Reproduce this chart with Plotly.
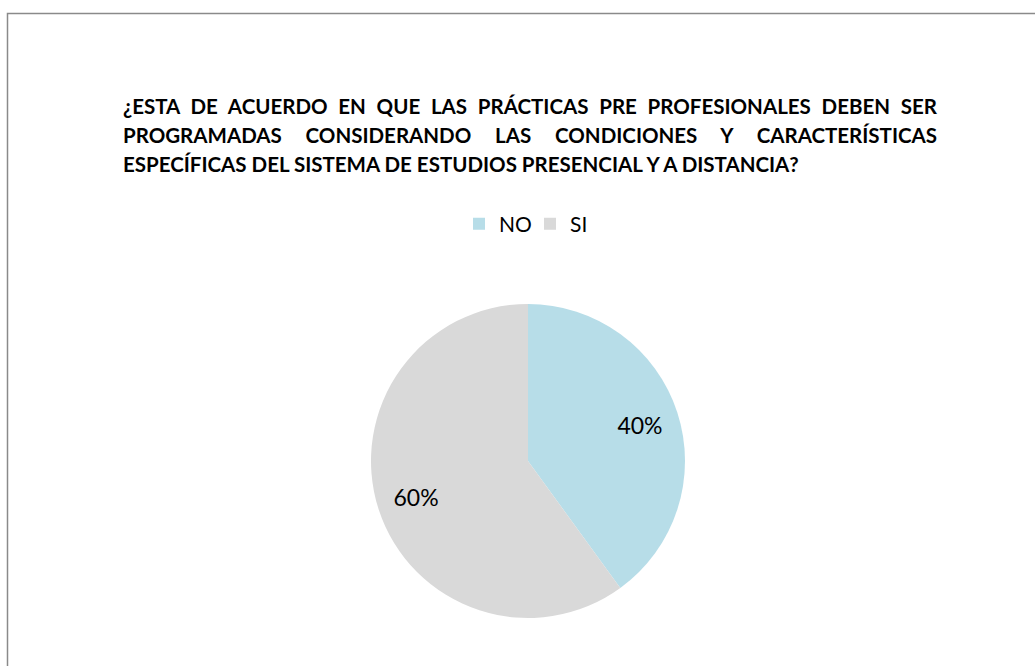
import json
import plotly.graph_objects as go

W, H = 1035, 666

# ---- data ----
categories = ["NO", "SI"]
values = [40, 60]
colors = ["#B7DDE8", "#D9D9D9"]

title_lines = [
    "¿ESTA DE ACUERDO EN QUE LAS PRÁCTICAS PRE PROFESIONALES DEBEN SER",
    "PROGRAMADAS CONSIDERANDO LAS CONDICIONES Y CARACTERÍSTICAS",
    "ESPECÍFICAS DEL SISTEMA DE ESTUDIOS PRESENCIAL Y A DISTANCIA?",
]

text_left, text_right = 121, 935
line_y = [106, 135, 164]
cx, cy, r = 528, 461, 157


def px(x):
    return x / W


def py(y):
    return 1 - y / H


TITLE_FONT = dict(family="Lato", size=20.5, color="#000000", weight="bold")

annotations = [
    dict(text=t, x=px(text_left), y=py(y), xref="paper", yref="paper",
         xanchor="left", yanchor="middle", align="left", showarrow=False,
         font=TITLE_FONT)
    for t, y in zip(title_lines, line_y)
]

dom = dict(x=[px(cx - r), px(cx + r)], y=[py(cy + r), py(cy - r)])

fig = go.Figure()
fig.add_trace(go.Pie(
    labels=categories,
    values=values,
    marker=dict(colors=colors, line=dict(width=0)),
    sort=False,
    direction="clockwise",
    rotation=0,
    textinfo="none",
    domain=dom,
    hoverinfo="label+percent",
))
# transparent ring carrying the percentage labels (places them near the rim)
fig.add_trace(go.Pie(
    labels=categories,
    values=values,
    marker=dict(colors=["rgba(0,0,0,0)"] * len(values), line=dict(width=0)),
    hole=0.5,
    sort=False,
    direction="clockwise",
    rotation=0,
    texttemplate="%{percent:.0%}",
    textposition="inside",
    insidetextorientation="horizontal",
    textfont=dict(family="Lato", size=23, color="#000000"),
    domain=dom,
    showlegend=False,
    hoverinfo="skip",
))

fig.update_layout(
    width=W, height=H,
    margin=dict(l=0, r=0, t=0, b=0),
    paper_bgcolor="white",
    plot_bgcolor="white",
    showlegend=True,
    legend=dict(orientation="h", x=px(530), xanchor="center", y=py(224), yanchor="middle",
                entrywidth=26,
                font=dict(family="Lato", size=21, color="#000000"), itemclick=False),
    annotations=annotations,
    shapes=[dict(type="rect", xref="paper", yref="paper",
                 x0=px(7.5), x1=1.05, y0=-0.05, y1=py(13.5),
                 line=dict(color="#8a8a8a", width=1.5), fillcolor="rgba(0,0,0,0)")],
)

justify = {title_lines[0]: text_right - text_left, title_lines[1]: text_right - text_left}

post_script = """
document.body.style.margin = '0';
var targets = %s;
var gd = document.getElementById('{plot_id}');
gd.querySelectorAll('text.annotation-text').forEach(function (t) {
  var s = t.textContent;
  if (!(s in targets)) return;
  var n = (s.match(/ /g) || []).length;
  var len = t.getComputedTextLength();
  var ws = (targets[s] - len) / n;
  t.style.wordSpacing = ws + 'px';
});
""" % json.dumps(justify, ensure_ascii=False)

fig.write_html("out.html", post_script=post_script, config={"displayModeBar": False})
